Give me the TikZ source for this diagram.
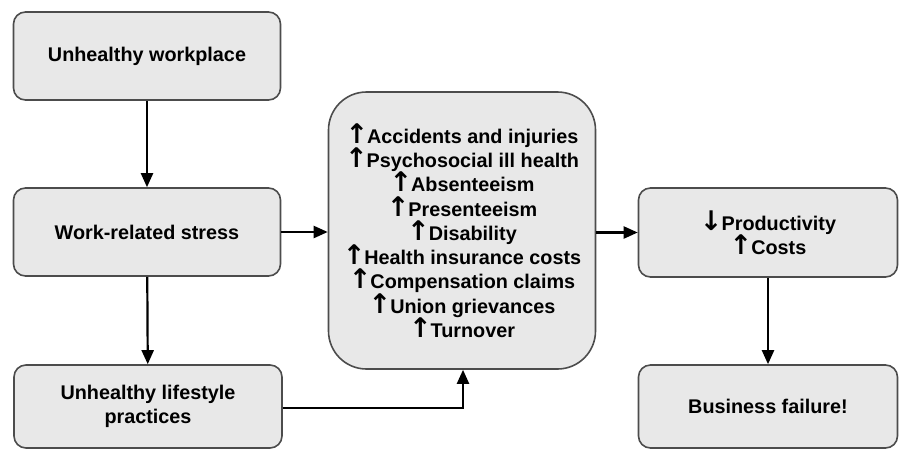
\documentclass[tikz,border=0pt]{standalone}
\usepackage{fontspec}
\setmainfont{Liberation Sans}
\newfontfamily\arrfont{DejaVu Sans}
\newcommand{\up}{{\arrfont\bfseries\fontsize{27}{24.3}\selectfont ↑}\kern-1pt}
\newcommand{\dn}{{\arrfont\bfseries\fontsize{27}{24.3}\selectfont ↓}\kern-1pt}
\usetikzlibrary{arrows.meta}
\begin{document}
\begin{tikzpicture}[x=1pt,y=-1pt,
  box/.style={draw=black!70,line width=1.6pt,fill=black!9,rounded corners=12pt,
    inner sep=0pt,align=center,font=\bfseries\fontsize{19.8}{24.3}\selectfont},
  conn/.style={line width=2.2pt,-{Triangle[length=14pt,width=12pt]}}]
\useasboundingbox (0,0) rectangle (899,451);
\node[box,minimum width=267pt,minimum height=88pt] (uw) at (147,56) {Unhealthy workplace};
\node[box,minimum width=267pt,minimum height=88pt] (wrs) at (147,232) {Work-related stress};
\node[box,minimum width=268pt,minimum height=83pt] (ulp) at (148,406.5) {Unhealthy lifestyle\\practices};
\node[box,rounded corners=38pt,minimum width=267pt,minimum height=277pt] (mid) at (462,230.5)
  {\up Accidents and injuries\\\up Psychosocial ill health\\\up Absenteeism\\\up Presenteeism\\\up Disability\\\up Health insurance costs\\\up Compensation claims\\\up Union grievances\\\up Turnover};
\node[box,minimum width=259pt,minimum height=89pt] (pc) at (768,232.5) {\dn Productivity\\\up Costs};
\node[box,minimum width=259pt,minimum height=83pt] (bf) at (768,406.5) {Business failure!};
\draw[conn] (uw) -- (wrs);
\draw[conn] (wrs) -- (ulp);
\draw[conn] (wrs.east) -- (mid.west|-wrs.east);
\draw[conn] (mid.east|-pc.west) -- (pc.west);
\draw[conn] (ulp.east|-0,408) -| ([xshift=1pt]mid.south);
\draw[conn] (pc.south-|bf.north) -- (bf.north);
\end{tikzpicture}
\end{document}
